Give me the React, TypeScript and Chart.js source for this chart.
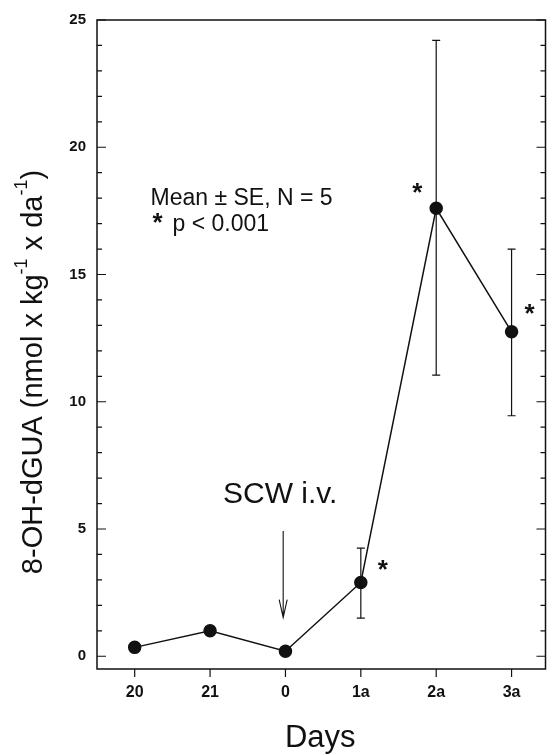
import React, { useEffect, useRef } from "react";
import { Chart, registerables } from "chart.js";

Chart.register(...registerables);

const days = ["20", "21", "0", "1a", "2a", "3a"];
const means = [0.35, 1.0, 0.2, 2.9, 17.6, 12.75];
const seUpper = [null, null, null, 4.25, 24.2, 16.0];
const seLower = [null, null, null, 1.5, 11.05, 9.45];
const significant = [false, false, false, true, true, true];
const yMajorTicks = [0, 5, 10, 15, 20, 25];

const FONT = "'Liberation Sans', Arial, sans-serif";
// asterisk offsets (px) relative to point
const starOffsets: Record<number, [number, number]> = { 3: [22, -17], 4: [-19, -20], 5: [18, -22] };

const drawPlugin = {
  id: "decor",
  afterDraw(chart: any) {
    const { ctx, chartArea: ca, scales } = chart;
    const xs = scales.x, ys = scales.y;
    ctx.save();
    ctx.strokeStyle = "#111";
    ctx.fillStyle = "#111";
    // frame
    ctx.lineWidth = 1.5;
    ctx.strokeRect(ca.left, ca.top, ca.right - ca.left, ca.bottom - ca.top);
    // y ticks inward, both sides
    ctx.lineWidth = 1.2;
    for (let v = 0; v <= 25; v++) {
      const y = ys.getPixelForValue(v);
      const len = v % 5 === 0 ? 9 : 5;
      ctx.beginPath();
      ctx.moveTo(ca.left, y); ctx.lineTo(ca.left + len, y);
      ctx.moveTo(ca.right, y); ctx.lineTo(ca.right - len, y);
      ctx.stroke();
    }
    // x ticks outward
    for (let i = 0; i < days.length; i++) {
      const x = xs.getPixelForValue(i);
      ctx.beginPath();
      ctx.moveTo(x, ca.bottom); ctx.lineTo(x, ca.bottom + 8);
      ctx.stroke();
    }
    // error bars
    ctx.lineWidth = 1.2;
    for (let i = 0; i < days.length; i++) {
      const hi = seUpper[i], lo = seLower[i];
      if (hi == null || lo == null) continue;
      const x = xs.getPixelForValue(i);
      const yh = ys.getPixelForValue(hi), yl = ys.getPixelForValue(lo);
      ctx.beginPath();
      ctx.moveTo(x, yh); ctx.lineTo(x, yl);
      ctx.moveTo(x - 4, yh); ctx.lineTo(x + 4, yh);
      ctx.moveTo(x - 4, yl); ctx.lineTo(x + 4, yl);
      ctx.stroke();
    }
    // asterisks
    ctx.font = `bold 26px ${FONT}`;
    ctx.textAlign = "center";
    ctx.textBaseline = "middle";
    for (let i = 0; i < days.length; i++) {
      if (!significant[i]) continue;
      const off = starOffsets[i] || [18, -18];
      ctx.fillText("*", xs.getPixelForValue(i) + off[0], ys.getPixelForValue(means[i]) + off[1] + 5);
    }
    // legend text
    ctx.textAlign = "left";
    ctx.font = `23px ${FONT}`;
    const lx = xs.getPixelForValue(0.21);
    ctx.fillText("Mean \u00B1 SE, N = 5", lx, ys.getPixelForValue(18.0));
    ctx.font = `bold 26px ${FONT}`;
    ctx.fillText("*", lx + 2, ys.getPixelForValue(17.15) + 4);
    ctx.font = `23px ${FONT}`;
    ctx.fillText("p < 0.001", lx + 22, ys.getPixelForValue(17.1) + 4);
    // SCW annotation
    ctx.font = `30px ${FONT}`;
    ctx.textAlign = "center";
    ctx.fillText("SCW i.v.", xs.getPixelForValue(1.93), ys.getPixelForValue(6.33));
    const ax = xs.getPixelForValue(1.97);
    const ay1 = ys.getPixelForValue(4.92), ay2 = ys.getPixelForValue(1.52);
    ctx.lineWidth = 1.1;
    ctx.beginPath();
    ctx.moveTo(ax, ay1); ctx.lineTo(ax, ay2);
    ctx.moveTo(ax - 4, ay2 - 18); ctx.lineTo(ax, ay2); ctx.lineTo(ax + 4, ay2 - 18);
    ctx.stroke();
    // x title
    ctx.font = `31px ${FONT}`;
    ctx.textAlign = "center";
    ctx.fillText("Days", (ca.left + ca.right) / 2 - 1, 738);
    // y title with superscripts
    const parts: [string, boolean][] = [
      ["8-OH-dGUA (nmol x kg", false],
      ["-1", true],
      [" x da", false],
      ["-1", true],
      [")", false],
    ];
    const mainF = `29px ${FONT}`, supF = `18px ${FONT}`;
    let total = 0;
    for (const [t, s] of parts) { ctx.font = s ? supF : mainF; total += ctx.measureText(t).width; }
    ctx.translate(34, 372);
    ctx.rotate(-Math.PI / 2);
    ctx.textAlign = "left";
    let cx = -total / 2;
    for (const [t, s] of parts) {
      ctx.font = s ? supF : mainF;
      ctx.fillText(t, cx, s ? -12 : 0);
      cx += ctx.measureText(t).width;
    }
    ctx.restore();
  },
};

export default function App() {
  const ref = useRef<HTMLCanvasElement>(null);
  useEffect(() => {
    const chart = new Chart(ref.current!, {
      type: "line",
      data: {
        datasets: [
          {
            data: means.map((m, i) => ({ x: i, y: m })),
            borderColor: "#111",
            borderWidth: 1.5,
            pointRadius: 6,
            pointBackgroundColor: "#111",
            pointBorderColor: "#111",
            tension: 0,
          },
        ],
      },
      options: {
        animation: false,
        responsive: false,
        layout: { padding: { top: 15, right: 5, left: 0, bottom: 0 } },
        plugins: { legend: { display: false }, tooltip: { enabled: false } },
        scales: {
          x: {
            type: "linear",
            min: -0.5,
            max: 5.45,
            grid: { display: false, drawTicks: false },
            border: { display: false },
            afterBuildTicks: (s: any) => { s.ticks = days.map((_, i) => ({ value: i })); },
            afterFit: (s: any) => { s.height = 86; },
            ticks: {
              padding: 14,
              color: "#111",
              font: { family: FONT, size: 16, weight: "bold" },
              callback: (v: any) => days[v as number] ?? "",
              maxRotation: 0,
            },
          },
          y: {
            type: "linear",
            min: -0.5,
            max: 25,
            grid: { display: false, drawTicks: false },
            border: { display: false },
            afterBuildTicks: (s: any) => { s.ticks = yMajorTicks.map((v) => ({ value: v })); },
            afterFit: (s: any) => { s.width = 97; },
            ticks: {
              padding: 11,
              color: "#111",
              font: { family: FONT, size: 15, weight: "bold" },
            },
          },
        },
      },
      plugins: [drawPlugin],
    } as any);
    return () => chart.destroy();
  }, []);
  return (
    <div style={{ position: "absolute", left: 0, top: 0, width: 553, height: 755, background: "#fff" }}>
      <canvas ref={ref} width={553} height={755} style={{ width: 553, height: 755 }} />
    </div>
  );
}
